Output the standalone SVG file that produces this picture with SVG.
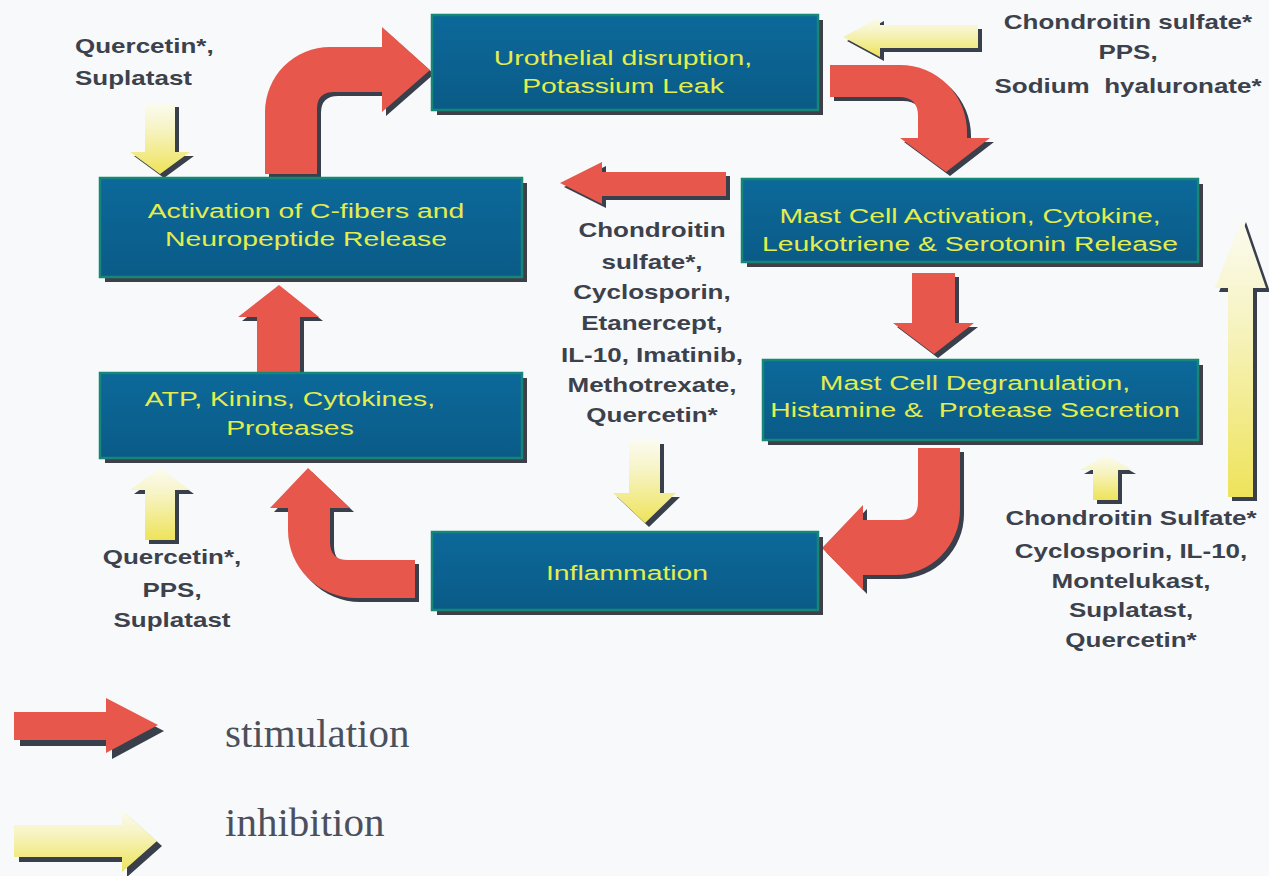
<svg xmlns="http://www.w3.org/2000/svg" xmlns:xlink="http://www.w3.org/1999/xlink" width="1269" height="876" viewBox="0 0 1269 876">
<style>
.bg{fill:#f7f9fb}
.box{fill:url(#boxg);stroke:#168676;stroke-width:2.5}
.bsh{fill:#3d4049}
.bt{font-family:"Liberation Sans",Arial,sans-serif;font-size:21px;fill:#e4ed4c;text-anchor:middle}
.lb{font-family:"Liberation Sans",Arial,sans-serif;font-size:20px;font-weight:bold;fill:#3c414c;text-anchor:middle}
.lbs{text-anchor:start}
.red{fill:#e8574b}
.yel{fill:url(#yelg)}
.sh{fill:#3a3f4c}
.leg{font-family:"Liberation Serif","Times New Roman",serif;font-size:41px;fill:#4b505c}
</style>
<defs>
<linearGradient id="boxg" x1="0" y1="0" x2="0" y2="1"><stop offset="0" stop-color="#0c699a"/><stop offset="1" stop-color="#0a5b87"/></linearGradient>
<linearGradient id="yelg" x1="0" y1="0" x2="0" y2="1"><stop offset="0" stop-color="#fbfbf0"/><stop offset="0.35" stop-color="#f7f4c6"/><stop offset="1" stop-color="#eee35a"/></linearGradient>
<path id="a1" d="M265,174 L265,112 A65,65 0 0 1 330,47 L382,47 L382,27 L430,70 L382,112 L382,92 L334,92 Q317,92 317,109 L317,174 Z"/>
<path id="a2" d="M830,65 L900,65 A67,67 0 0 1 967,132 L967,138 L990,138 L946,172 L900,138 L918,138 L918,116 Q918,97 899,97 L830,97 Z"/>
<path id="a3" d="M912,273 L955,273 L955,323 L974,323 L934,354 L893,323 L912,323 Z"/>
<path id="a4" d="M918,448 L960,448 L960,510 A65,65 0 0 1 895,575 L863,575 L863,590 L822,548 L863,505 L863,520 L900,520 Q918,520 918,502 Z"/>
<path id="a5" d="M415,560 L348,560 Q330,560 330,542 L330,508 L350,508 L308,468 L270,508 L288,508 L288,530 A68,68 0 0 0 356,598 L415,598 Z"/>
<path id="a6" d="M257,372 L257,317 L238,317 L279,285 L319,317 L300,317 L300,372 Z"/>
<path id="a7" d="M726,172 L602,172 L602,162 L560,183 L602,204 L602,196 L726,196 Z"/>
<path id="y1" d="M978,25 L880,25 L880,17 L843,37 L880,57 L880,48 L978,48 Z"/>
<path id="y2" d="M145,103 L175,103 L175,152 L190,152 L160,174 L130,152 L145,152 Z"/>
<path id="y3" d="M629,440 L660,440 L660,493 L676,493 L645,523 L613,493 L629,493 Z"/>
<path id="y4" d="M145,540 L145,490 L130,490 L160,468 L190,490 L175,490 L175,540 Z"/>
<path id="y5" d="M1093,500 L1093,470 L1080,470 L1106,455 L1132,470 L1118,470 L1118,500 Z"/>
<path id="y6" d="M1228,497 L1228,288 L1215,288 L1242,218 L1266,288 L1253,288 L1253,497 Z"/>
<path id="l1" d="M14,712 L106,712 L106,698 L158,725 L106,753 L106,740 L14,740 Z"/>
<path id="l2" d="M14,825 L122,825 L122,810 L157,841 L122,872 L122,857 L14,857 Z"/>
</defs>
<rect class="bg" x="0" y="0" width="1269" height="876"/>

<g id="connectors">
<use xlink:href="#a1" class="sh" transform="translate(4,4)"/><use xlink:href="#a1" class="red"/>
<use xlink:href="#a2" class="sh" transform="translate(4,4)"/><use xlink:href="#a2" class="red"/>
<use xlink:href="#a3" class="sh" transform="translate(4,4)"/><use xlink:href="#a3" class="red"/>
<use xlink:href="#a4" class="sh" transform="translate(4,4)"/><use xlink:href="#a4" class="red"/>
<use xlink:href="#a5" class="sh" transform="translate(4,4)"/><use xlink:href="#a5" class="red"/>
<use xlink:href="#a6" class="sh" transform="translate(4,4)"/><use xlink:href="#a6" class="red"/>
<use xlink:href="#a7" class="sh" transform="translate(4,4)"/><use xlink:href="#a7" class="red"/>
<use xlink:href="#y1" class="sh" transform="translate(4,4)"/><use xlink:href="#y1" class="yel"/>
<use xlink:href="#y2" class="sh" transform="translate(4,4)"/><use xlink:href="#y2" class="yel"/>
<use xlink:href="#y3" class="sh" transform="translate(4,4)"/><use xlink:href="#y3" class="yel"/>
<use xlink:href="#y4" class="sh" transform="translate(4,4)"/><use xlink:href="#y4" class="yel"/>
<use xlink:href="#y5" class="sh" transform="translate(4,4)"/><use xlink:href="#y5" class="yel"/>
<use xlink:href="#y6" class="sh" transform="translate(4,4)"/><use xlink:href="#y6" class="yel"/>
</g>

<g id="urothelial">
<rect class="bsh" x="437" y="20" width="386" height="95"/>
<rect class="box" x="432" y="15" width="386" height="95"/>
<g transform="translate(623,0) scale(1.35,1)"><text class="bt" x="0" y="65">Urothelial disruption,</text><text class="bt" x="0" y="93">Potassium Leak</text></g>
</g>
<g id="cfibers">
<rect class="bsh" x="105" y="183" width="422" height="99"/>
<rect class="box" x="100" y="178" width="422" height="99"/>
<g transform="translate(306,0) scale(1.35,1)"><text class="bt" x="0" y="218">Activation of C-fibers and</text><text class="bt" x="0" y="246">Neuropeptide Release</text></g>
</g>
<g id="mastact">
<rect class="bsh" x="747" y="184" width="456" height="83"/>
<rect class="box" x="742" y="179" width="456" height="83"/>
<g transform="translate(970,0) scale(1.35,1)"><text class="bt" x="0" y="223">Mast Cell Activation, Cytokine,</text><text class="bt" x="0" y="251">Leukotriene &amp; Serotonin Release</text></g>
</g>
<g id="mastdegran">
<rect class="bsh" x="768" y="365" width="435" height="80"/>
<rect class="box" x="763" y="360" width="435" height="80"/>
<g transform="translate(975,0) scale(1.35,1)"><text class="bt" x="0" y="390">Mast Cell Degranulation,</text><text class="bt" x="0" y="417">Histamine &amp; &#160;Protease Secretion</text></g>
</g>
<g id="atp">
<rect class="bsh" x="105" y="378" width="422" height="85"/>
<rect class="box" x="100" y="373" width="422" height="85"/>
<g transform="translate(290,0) scale(1.35,1)"><text class="bt" x="0" y="406">ATP, Kinins, Cytokines,</text><text class="bt" x="0" y="435">Proteases</text></g>
</g>
<g id="inflammation">
<rect class="bsh" x="437" y="537" width="386" height="78"/>
<rect class="box" x="432" y="532" width="386" height="78"/>
<g transform="translate(627,0) scale(1.35,1)"><text class="bt" x="0" y="580">Inflammation</text></g>
</g>

<g id="inh-topleft" transform="translate(75,0) scale(1.3,1)">
<text class="lb lbs" x="0" y="53">Quercetin*,</text>
<text class="lb lbs" x="0" y="85">Suplatast</text>
</g>
<g id="inh-topright" transform="translate(1128,0) scale(1.3,1)">
<text class="lb" x="0" y="29">Chondroitin sulfate*</text>
<text class="lb" x="0" y="59">PPS,</text>
<text class="lb" x="0" y="93">Sodium &#160;hyaluronate*</text>
</g>
<g id="inh-middle" transform="translate(652,0) scale(1.3,1)">
<text class="lb" x="0" y="237">Chondroitin</text>
<text class="lb" x="0" y="269">sulfate*,</text>
<text class="lb" x="0" y="299">Cyclosporin,</text>
<text class="lb" x="0" y="330">Etanercept,</text>
<text class="lb" x="0" y="362">IL-10, Imatinib,</text>
<text class="lb" x="0" y="392">Methotrexate,</text>
<text class="lb" x="0" y="422">Quercetin*</text>
</g>
<g id="inh-bottomleft" transform="translate(172,0) scale(1.3,1)">
<text class="lb" x="0" y="564">Quercetin*,</text>
<text class="lb" x="0" y="597">PPS,</text>
<text class="lb" x="0" y="627">Suplatast</text>
</g>
<g id="inh-bottomright" transform="translate(1131,0) scale(1.3,1)">
<text class="lb" x="0" y="525">Chondroitin Sulfate*</text>
<text class="lb" x="0" y="558">Cyclosporin, IL-10,</text>
<text class="lb" x="0" y="588">Montelukast,</text>
<text class="lb" x="0" y="617">Suplatast,</text>
<text class="lb" x="0" y="647">Quercetin*</text>
</g>

<g id="legend">
<use xlink:href="#l1" class="sh" transform="translate(6,6)"/><use xlink:href="#l1" class="red"/>
<text class="leg" x="225" y="747">stimulation</text>
<use xlink:href="#l2" class="sh" transform="translate(5,5)"/><use xlink:href="#l2" class="yel"/>
<text class="leg" x="225" y="836">inhibition</text>
</g>
</svg>
